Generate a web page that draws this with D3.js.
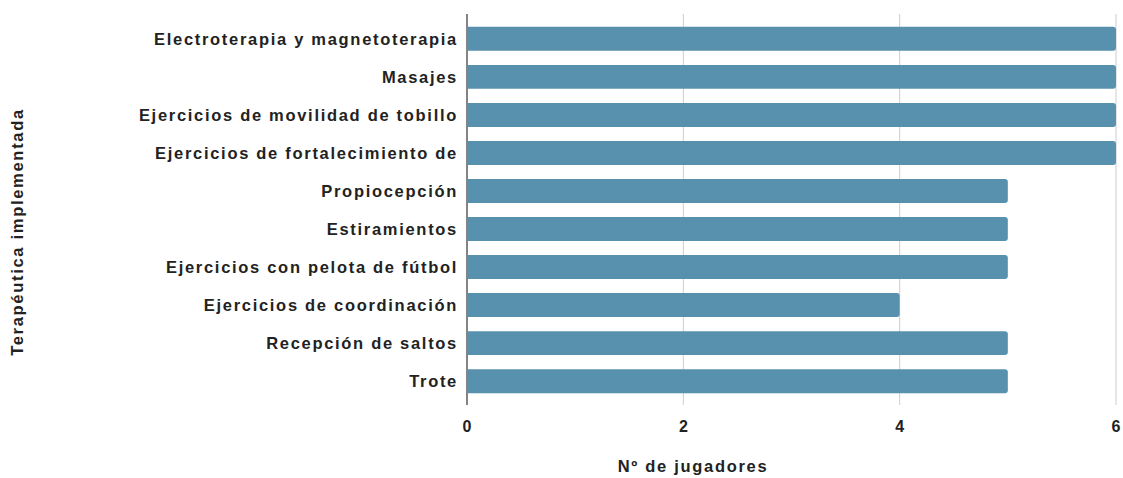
<!DOCTYPE html>
<html>
<head>
<meta charset="utf-8">
<script src="https://cdn.jsdelivr.net/npm/d3@7"></script>
<style>
  body { margin: 0; background: #fff; }
  text { font-family: "Liberation Sans", Arial, sans-serif; font-weight: bold; fill: #222; letter-spacing: 1.7px; }
</style>
</head>
<body>
<div id="chart"></div>
<script>
// horizontal bar chart: terapeutica implementada por nº de jugadores
var categories = [
  "Electroterapia y magnetoterapia",
  "Masajes",
  "Ejercicios de movilidad de tobillo",
  "Ejercicios de fortalecimiento de",
  "Propiocepción",
  "Estiramientos",
  "Ejercicios con pelota de fútbol",
  "Ejercicios de coordinación",
  "Recepción de saltos",
  "Trote"
];
var values = [6, 6, 6, 6, 5, 5, 5, 4, 5, 5];
var xTicks = [0, 2, 4, 6];

var margin = { top: 20, left: 467, right: 7, bottom: 78 },
  width = 1123 - margin.left - margin.right,
  height = 478 - margin.top - margin.bottom;

var svg = d3.select("#chart")
  .append("svg")
  .attr("width", 1123)
  .attr("height", 478)
  .append("g")
  .attr("transform", "translate(" + margin.left + "," + margin.top + ")");

var xPositionScale = d3.scaleLinear().domain([0, 6]).range([0, width]);
var yPositionScale = d3.scaleBand()
  .domain(categories)
  .range([0, height])
  .paddingInner(0.37)
  .paddingOuter(0.18);

// gridlines
svg.selectAll(".grid")
  .data(xTicks)
  .enter().append("line")
  .attr("class", "grid")
  .attr("x1", function(d) { return xPositionScale(d); })
  .attr("x2", function(d) { return xPositionScale(d); })
  .attr("y1", -6)
  .attr("y2", height + 5)
  .attr("stroke", function(d) { return d === 0 ? "#333" : "#ccc"; })
  .attr("stroke-width", function(d) { return d === 0 ? 1.2 : 1; });

// bars with rounded right end
svg.selectAll(".bar")
  .data(values)
  .enter().append("path")
  .attr("class", "bar")
  .attr("fill", "#5891ad")
  .attr("d", function(d, i) {
    var x0 = xPositionScale(0) + 0.6, x1 = xPositionScale(d),
      y0 = yPositionScale(categories[i]), h = yPositionScale.bandwidth(), r = 3;
    return "M" + x0 + "," + y0 + "H" + (x1 - r) + "Q" + x1 + "," + y0 + " " + x1 + "," + (y0 + r) +
      "V" + (y0 + h - r) + "Q" + x1 + "," + (y0 + h) + " " + (x1 - r) + "," + (y0 + h) + "H" + x0 + "Z";
  });

// category labels
svg.selectAll(".label")
  .data(categories)
  .enter().append("text")
  .attr("class", "label")
  .attr("x", -9)
  .attr("y", function(d) { return yPositionScale(d) + yPositionScale.bandwidth() / 2; })
  .attr("dy", "0.35em")
  .attr("text-anchor", "end")
  .attr("font-size", "16.5px")
  .text(function(d) { return d; });

// x tick labels
svg.selectAll(".tick-label")
  .data(xTicks)
  .enter().append("text")
  .attr("class", "tick-label")
  .attr("x", function(d) { return xPositionScale(d); })
  .attr("y", height + 32)
  .attr("text-anchor", "middle")
  .attr("font-size", "16px")
  .style("letter-spacing", "0")
  .text(function(d) { return d; });

svg.append("text")
  .attr("x", 226)
  .attr("y", height + 72)
  .attr("text-anchor", "middle")
  .attr("font-size", "16.5px")
  .text("Nº de jugadores");

svg.append("text")
  .attr("transform", "rotate(-90)")
  .attr("x", -(232 - margin.top))
  .attr("y", 23 - margin.left)
  .attr("text-anchor", "middle")
  .attr("font-size", "16.5px")
  .text("Terapéutica implementada");
</script>
</body>
</html>
